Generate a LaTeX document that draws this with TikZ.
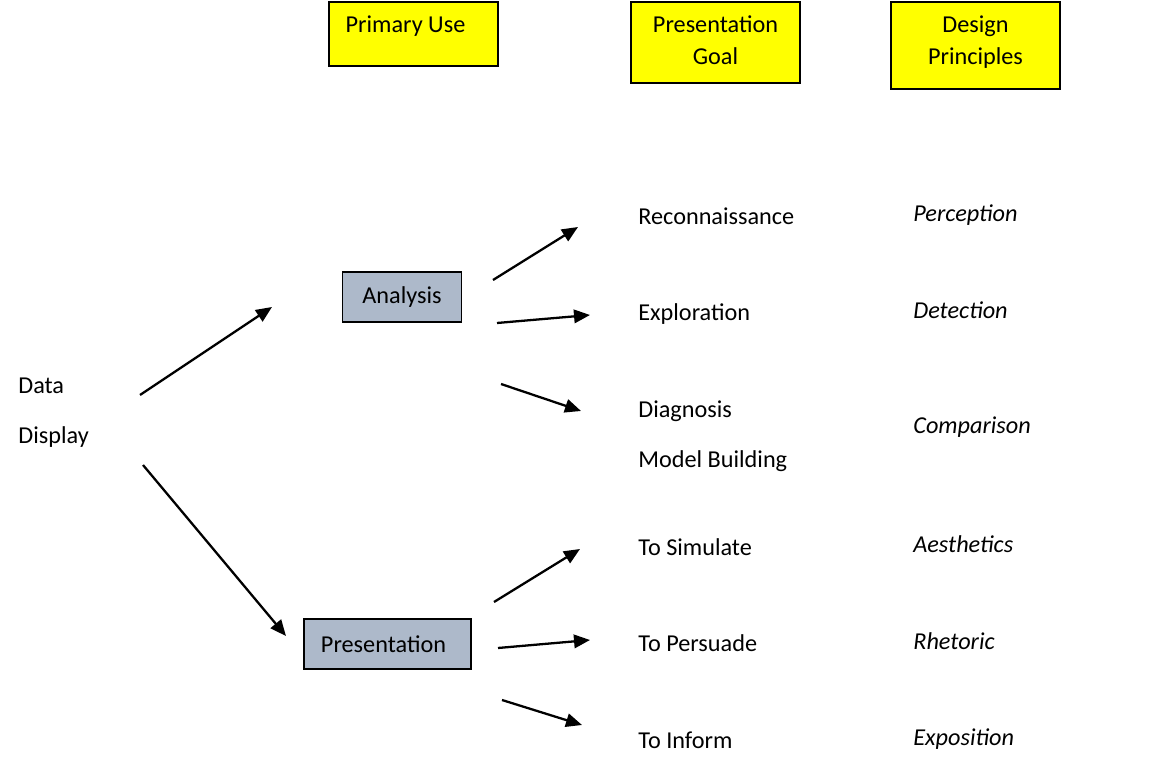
\documentclass[tikz,border=0pt]{standalone}
\usepackage{fontspec}
\setmainfont{Carlito}
\usepackage{tikz}
\usetikzlibrary{arrows.meta}
\definecolor{headyellow}{RGB}{255,255,0}
\definecolor{usegrey}{RGB}{173,185,202}
\tikzset{   head/.style = {rectangle, draw = black, line width=1.2pt, fill = headyellow, minimum width=3.38cm, inner sep=0pt, align=center, anchor=north},
            use/.style = {rectangle, draw = black, line width=1pt, fill = usegrey, minimum height=1cm},
            item/.style = {anchor=base west, inner sep=0pt},
            link/.style = {-{Triangle[length=0.32cm,width=0.27cm]}, line width=1.3pt}}

\begin{document}
\begin{tikzpicture}[x=0.02cm, y=-0.02cm, every node/.style={font=\fontsize{13.8pt}{18.1pt}\selectfont}]
                        \useasboundingbox (0,0) rectangle (1152,783);
                        \node[head, text height=0.6cm, text depth=0.68cm] (primary) at (413.5,1) {Primary Use\hspace*{0.32cm}};
                        \node[head, text height=1.24cm, text depth=0.38cm] (goal) at (715.5,1) {Presentation\\Goal};
                        \node[head, text height=1.24cm, text depth=0.5cm] (principles) at (975.5,1) {Design\\Principles};
                        \node[item, align=left, font=\fontsize{13.8pt}{28.4pt}\selectfont] (data) at (18,443) {Data\\Display};
                        \node[use, minimum width=2.38cm] (analysis) at (402,297) {Analysis};
                        \node[use, minimum width=3.34cm] (presentation) at (387.5,644) {Presentation\hspace*{0.16cm}};
                        \node[item] (recon) at (638,225) {Reconnaissance};
                        \node[item] (explore) at (638,321) {Exploration};
                        \node[item] (diagnose) at (638,418) {Diagnosis};
                        \node[item] (model) at (638,467) {Model Building};
                        \node[item] (simulate) at (638,555) {To Simulate};
                        \node[item] (persuade) at (638,651) {To Persuade};
                        \node[item] (inform) at (638,748) {To Inform};
                        \node[item, font=\fontsize{13.8pt}{18.1pt}\selectfont\itshape] (perception) at (913,222) {Perception};
                        \node[item, font=\fontsize{13.8pt}{18.1pt}\selectfont\itshape] (detection) at (913,319) {Detection};
                        \node[item, font=\fontsize{13.8pt}{18.1pt}\selectfont\itshape] (comparison) at (913,434) {Comparison};
                        \node[item, font=\fontsize{13.8pt}{18.1pt}\selectfont\itshape] (aesthetics) at (913,552) {Aesthetics};
                        \node[item, font=\fontsize{13.8pt}{18.1pt}\selectfont\itshape] (rhetoric) at (913,649) {Rhetoric};
                        \node[item, font=\fontsize{13.8pt}{18.1pt}\selectfont\itshape] (exposition) at (913,745) {Exposition};
                        \coordinate (data-a) at (140,395);
                        \coordinate (analysis-in) at (272,307);
                        \coordinate (data-p) at (143,465);
                        \coordinate (presentation-in) at (286,636);
                        \coordinate (analysis-r) at (493,280);
                        \coordinate (recon-in) at (578,227);
                        \coordinate (analysis-e) at (497,323);
                        \coordinate (explore-in) at (590,315);
                        \coordinate (analysis-d) at (501,384);
                        \coordinate (diagnose-in) at (581,411);
                        \coordinate (presentation-s) at (494,602);
                        \coordinate (simulate-in) at (580,549);
                        \coordinate (presentation-p) at (498,648);
                        \coordinate (persuade-in) at (590,640);
                        \coordinate (presentation-i) at (502,700);
                        \coordinate (inform-in) at (582,725);
                        \draw[link] (data-a) -- (analysis-in);
                        \draw[link] (data-p) -- (presentation-in);
                        \draw[link] (analysis-r) -- (recon-in);
                        \draw[link] (analysis-e) -- (explore-in);
                        \draw[link] (analysis-d) -- (diagnose-in);
                        \draw[link] (presentation-s) -- (simulate-in);
                        \draw[link] (presentation-p) -- (persuade-in);
                        \draw[link] (presentation-i) -- (inform-in);
\end{tikzpicture}
\end{document}
